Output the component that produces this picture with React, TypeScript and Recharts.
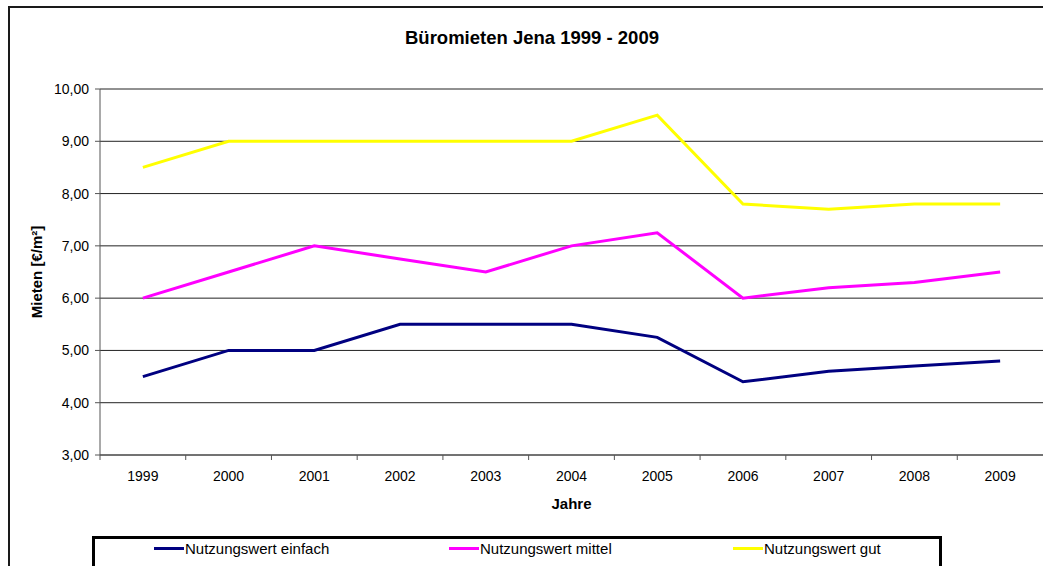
import { LineChart, Line, XAxis, YAxis, CartesianGrid, Legend } from "recharts";

const YEARS = [1999, 2000, 2001, 2002, 2003, 2004, 2005, 2006, 2007, 2008, 2009];
const EINFACH = [4.5, 5.0, 5.0, 5.5, 5.5, 5.5, 5.25, 4.4, 4.6, 4.7, 4.8];
const MITTEL = [6.0, 6.5, 7.0, 6.75, 6.5, 7.0, 7.25, 6.0, 6.2, 6.3, 6.5];
const GUT = [8.5, 9.0, 9.0, 9.0, 9.0, 9.0, 9.5, 7.8, 7.7, 7.8, 7.8];
const Y_TICKS = [3, 4, 5, 6, 7, 8, 9, 10];

const SERIES = [
  { key: "einfach", name: "Nutzungswert einfach", color: "#000080" },
  { key: "mittel", name: "Nutzungswert mittel", color: "#FF00FF" },
  { key: "gut", name: "Nutzungswert gut", color: "#FFFF00" },
];

const data = YEARS.map((year, i) => ({
  year,
  einfach: EINFACH[i],
  mittel: MITTEL[i],
  gut: GUT[i],
}));

const FONT = "'Liberation Sans', Arial, sans-serif";
const PLOT_W = 943;
const HALF_STEP = PLOT_W / YEARS.length / 2;
const LEGEND_X = [62, 357, 641];

function YearTick({ x, y, payload }: any) {
  return (
    <g>
      <line x1={x - HALF_STEP} x2={x - HALF_STEP} y1={y} y2={y + 5} stroke="#555" />
      <text x={x} y={y + 26} textAnchor="middle" fontSize={14} fontFamily={FONT} fill="#000">
        {payload.value}
      </text>
    </g>
  );
}

function renderLegend({ payload }: any) {
  // keep the series order instead of the alphabetical one
  const items = SERIES.map((s) => (payload || []).find((p: any) => p.value === s.name)).filter(Boolean);
  return (
    <div style={{ position: "relative", height: "100%", fontFamily: FONT, fontSize: 15 }}>
      {items.map((p: any, i: number) => (
        <div
          key={i}
          style={{ position: "absolute", left: LEGEND_X[i] - 3, top: 1, display: "flex", alignItems: "center", whiteSpace: "nowrap" }}
        >
          <span style={{ display: "inline-block", width: 30, height: 3, background: p.color, marginRight: 1 }} />
          <span>{p.value}</span>
        </div>
      ))}
    </div>
  );
}

function YLabel({ viewBox }: any) {
  const cx = viewBox.x + 36;
  const cy = viewBox.y + viewBox.height / 2;
  return (
    <text
      x={cx}
      y={cy}
      transform={`rotate(-90, ${cx}, ${cy})`}
      textAnchor="middle"
      dominantBaseline="central"
      fontSize={15}
      fontWeight="bold"
      fontFamily={FONT}
      fill="#000"
    >
      Mieten [€/m²]
    </text>
  );
}

export default function App() {
  return (
    <div style={{ position: "fixed", left: 0, top: 0, width: 1043, height: 566, overflow: "hidden", background: "#fff" }}>
      <div
        style={{
          position: "absolute",
          left: 8,
          top: 6,
          width: 1100,
          height: 620,
          border: "2px solid #1a1a1a",
        }}
      />
      <div
        style={{
          position: "absolute",
          left: 8,
          top: 27,
          width: 1048,
          textAlign: "center",
          fontFamily: FONT,
          fontWeight: "bold",
          fontSize: 18.5,
          color: "#000",
        }}
      >
        Büromieten Jena 1999 - 2009
      </div>
      <div style={{ position: "absolute", left: 0, top: 0 }}>
        <LineChart width={1100} height={566} data={data} margin={{ top: 89, right: 57, bottom: 51, left: 0 }}>
          <CartesianGrid vertical={false} stroke="#222" />
          <XAxis
            dataKey="year"
            type="number"
            domain={[1998.5, 2009.5]}
            ticks={YEARS}
            height={60}
            tickLine={false}
            tickSize={0}
            tickMargin={0}
            stroke="#555"
            tick={<YearTick />}
            label={{
              value: "Jahre",
              position: "insideBottom",
              offset: 6,
              style: { fontFamily: FONT, fontSize: 15, fontWeight: "bold", fill: "#000" },
            }}
          />
          <YAxis
            width={100}
            domain={[3, 10]}
            ticks={Y_TICKS}
            interval={0}
            stroke="#555"
            tickSize={5}
            tickMargin={6}
            tickFormatter={(v: number) => v.toFixed(2).replace(".", ",")}
            tick={{ fontSize: 14, fontFamily: FONT, fill: "#000" }}
            label={<YLabel />}
          />
          {SERIES.map((s) => (
            <Line
              key={s.key}
              dataKey={s.key}
              name={s.name}
              stroke={s.color}
              strokeWidth={3}
              dot={false}
              activeDot={false}
              isAnimationActive={false}
            />
          ))}
          <Legend
            layout="horizontal"
            verticalAlign="middle"
            align="center"
            content={renderLegend}
            wrapperStyle={{
              left: 92,
              top: 536,
              width: 850,
              height: 44,
              border: "3px solid #000",
              boxSizing: "border-box",
              background: "#fff",
            }}
          />
        </LineChart>
      </div>
    </div>
  );
}
